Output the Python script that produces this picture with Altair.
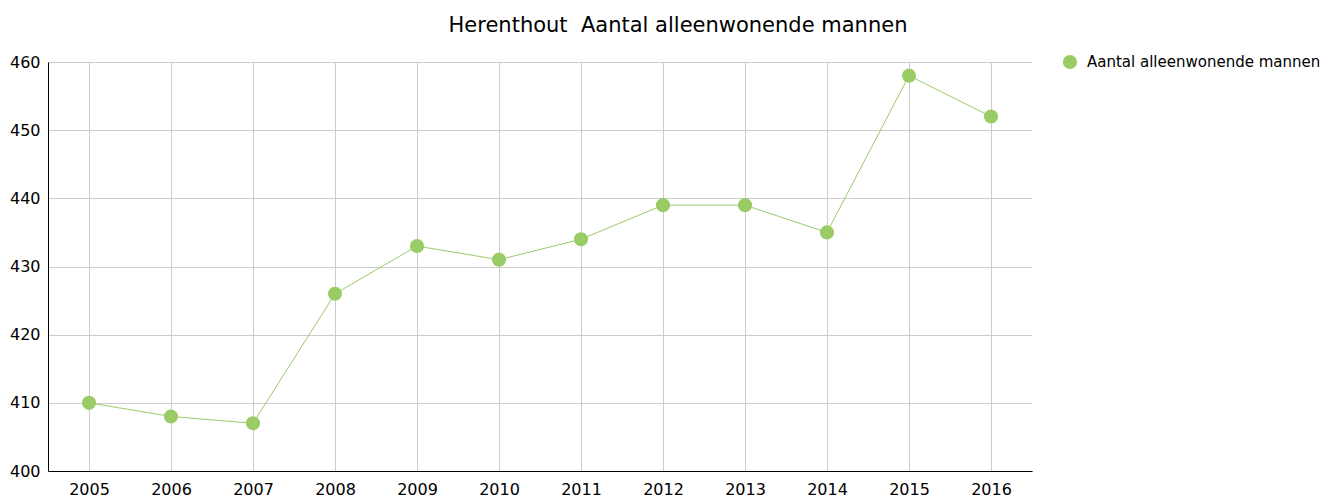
import altair as alt
import pandas as pd

years = ["2005", "2006", "2007", "2008", "2009", "2010", "2011", "2012", "2013", "2014", "2015", "2016"]
values = [410, 408, 407, 426, 433, 431, 434, 439, 439, 435, 458, 452]
series = "Aantal alleenwonende mannen"

df = pd.DataFrame({"jaar": years, "waarde": values, "reeks": [series] * len(years)})

GREEN = "#99CC66"
FONT = "DejaVu Sans"

x = alt.X("jaar:O", scale=alt.Scale(type="point", padding=0.5),
          axis=alt.Axis(title=None, labelAngle=0, grid=True, gridColor="#cccccc",
                        domainColor="#000000", ticks=False, labelFontSize=16,
                        labelPadding=10, labelColor="#000000", labelFont=FONT))
y = alt.Y("waarde:Q", scale=alt.Scale(domain=[400, 460], nice=False, zero=False),
          axis=alt.Axis(title=None, values=[400, 410, 420, 430, 440, 450, 460],
                        grid=True, gridColor="#cccccc", domainColor="#000000",
                        ticks=False, labelFontSize=16, labelPadding=8,
                        labelColor="#000000", labelFont=FONT))

line = alt.Chart(df).mark_line(color=GREEN, strokeWidth=1).encode(x=x, y=y)
points = alt.Chart(df).mark_circle(size=200, opacity=1).encode(
    x=x, y=y,
    color=alt.Color("reeks:N", scale=alt.Scale(range=[GREEN]),
                    legend=alt.Legend(title=None, orient="none", legendX=1014, legendY=-8,
                                      symbolSize=200, labelFontSize=15, labelFont=FONT,
                                      labelColor="#000000", symbolType="circle",
                                      symbolOpacity=1, labelLimit=400, labelOffset=9)),
)

chart = (line + points).properties(
    width=984, height=409,
    title=alt.TitleParams("Herenthout\u00a0 Aantal alleenwonende mannen", fontSize=21,
                          font=FONT, fontWeight="normal", color="#000000",
                          anchor="middle", dx=138, offset=18),
    autosize=alt.AutoSizeParams(type="none"),
    padding={"left": 40, "top": 54, "right": 288, "bottom": 28},
).configure_view(stroke=None)

chart.save("out.html", embed_options={"renderer": "svg", "actions": False})
